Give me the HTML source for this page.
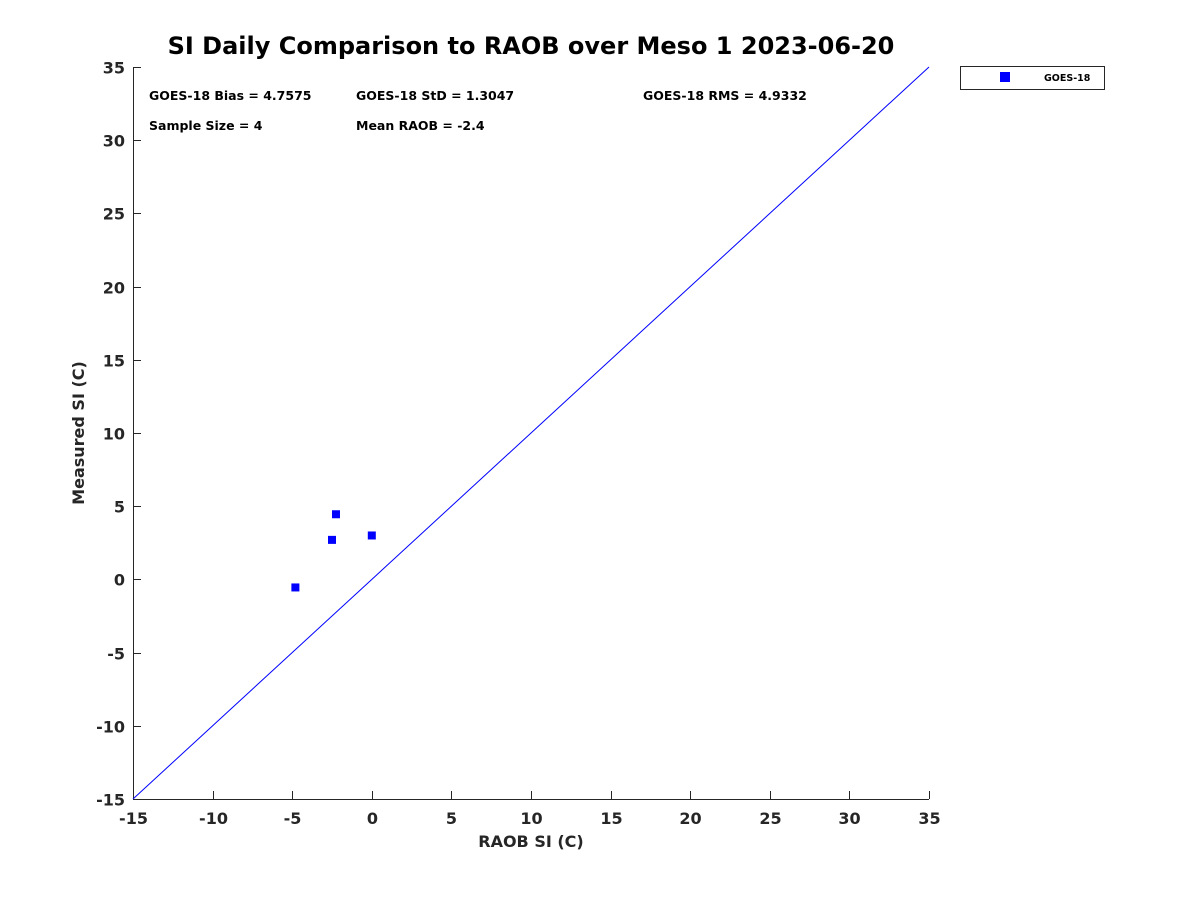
<!DOCTYPE html>
<html><head><meta charset="utf-8"><style>
body{margin:0;background:#fff;}
svg{display:block;font-family:"DejaVu Sans","Liberation Sans",sans-serif;font-weight:bold;}
</style></head><body>
<svg id="chart" width="1200" height="900">
<text x="531" y="54" text-anchor="middle" font-size="24" fill="#000">SI Daily Comparison to RAOB over Meso 1 2023-06-20</text>
<g id="axes"></g>
<line id="oneone" stroke="#0000ff" stroke-width="1"/>
<g id="pts"></g>
<g font-size="12.5" fill="#000">
<text x="149" y="100">GOES-18 Bias = 4.7575</text>
<text x="356" y="100">GOES-18 StD = 1.3047</text>
<text x="643" y="100">GOES-18 RMS = 4.9332</text>
<text x="149" y="130">Sample Size = 4</text>
<text x="356" y="130">Mean RAOB = -2.4</text>
</g>
<text x="531" y="847" text-anchor="middle" font-size="16" fill="#262626">RAOB SI (C)</text>
<text transform="translate(84,433) rotate(-90)" text-anchor="middle" font-size="16" fill="#262626">Measured SI (C)</text>
<g>
<rect x="960.5" y="66.5" width="144" height="23" fill="#fff" stroke="#262626" stroke-width="1"/>
<rect x="1000" y="72" width="10" height="10" fill="#0000ff"/>
<text x="1044" y="81" font-size="9.5" fill="#000">GOES-18</text>
</g>
</svg>
<script>
const raobValues=[-4.8,-2.5,-2.25,0.0];
const goesValues=[-0.55,2.7,4.45,3.0];
const xTicks=[-15,-10,-5,0,5,10,15,20,25,30,35];
const yTicks=[-15,-10,-5,0,5,10,15,20,25,30,35];
const X0=133,X1=929,Y0=799,Y1=67,MIN=-15,MAX=35;
const sx=v=>X0+(v-MIN)/(MAX-MIN)*(X1-X0);
const sy=v=>Y0-(v-MIN)/(MAX-MIN)*(Y0-Y1);
const NS="http://www.w3.org/2000/svg";
const axes=document.getElementById('axes');
function mk(tag,attrs,parent){const e=document.createElementNS(NS,tag);for(const k in attrs)e.setAttribute(k,attrs[k]);parent.appendChild(e);return e;}
const xa=mk('line',{x1:X0,y1:Y0+0.5,x2:X1,y2:Y0+0.5,stroke:'#262626'},axes);


const ya=mk('line',{x1:X0+0.5,y1:Y1,x2:X0+0.5,y2:Y0,stroke:'#262626'},axes);


xTicks.forEach(t=>{
  const x=Math.round(sx(t))+0.5;
  const l=mk('line',{x1:x,y1:Y0,x2:x,y2:Y0-8,stroke:'#262626'},axes);
  
  
  const tx=mk('text',{x:x,y:Y0+25,'text-anchor':'middle','font-size':16,fill:'#262626'},axes);
  tx.textContent=t;
  
  
});
yTicks.forEach(t=>{
  const y=Math.round(sy(t))+0.5;
  const l=mk('line',{x1:X0,y1:y,x2:X0+8,y2:y,stroke:'#262626'},axes);
  
  
  const tx=mk('text',{x:X0-8,y:y+6,'text-anchor':'end','font-size':16,fill:'#262626'},axes);
  tx.textContent=t;
  
  
});
const ol=document.getElementById('oneone');
ol.setAttribute('x1',sx(MIN));ol.setAttribute('y1',sy(MIN));
ol.setAttribute('x2',sx(MAX));ol.setAttribute('y2',sy(MAX));
const pts=document.getElementById('pts');
raobValues.forEach((r,i)=>{
  const p=mk('rect',{x:sx(r)-4,y:sy(goesValues[i])-4,width:8,height:8,fill:'#0000ff'},pts);
  
  
});
</script>
</body></html>
